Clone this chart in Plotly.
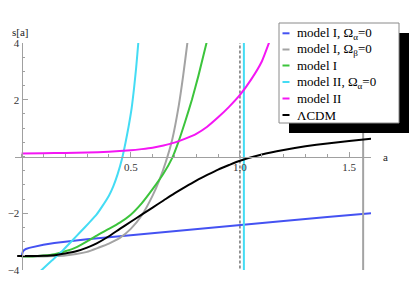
import plotly.graph_objects as go

# ---- data ----
a_m1_noalpha = [0.0, 0.002, 0.006, 0.012, 0.02, 0.035, 0.05, 0.075, 0.1, 0.15, 0.2, 0.3, 0.45, 0.65, 0.863, 1.0, 1.2, 1.4, 1.6]
s_m1_noalpha = [-3.52, -3.42, -3.35, -3.3, -3.26, -3.22, -3.19, -3.15, -3.11, -3.05, -3.0, -2.92, -2.81, -2.66, -2.5, -2.4, -2.27,
                -2.13, -2.0]

a_m1_nobeta = [0.0, 0.1, 0.15, 0.2, 0.25, 0.3, 0.35, 0.4, 0.45, 0.5, 0.55, 0.6, 0.63, 0.66, 0.69, 0.72, 0.74, 0.76, 0.77,
               None, 1.564, 1.564]
s_m1_nobeta = [-3.52, -3.52, -3.51, -3.49, -3.44, -3.36, -3.22, -3.07, -2.87, -2.55, -2.08, -1.38, -0.85, -0.2, 0.6, 1.8, 2.85, 4.05, 4.7,
               None, -4.3, 4.3]

a_m1 = [0.0, 0.05, 0.1, 0.15, 0.2, 0.25, 0.3, 0.35, 0.4, 0.45, 0.5, 0.55, 0.6, 0.65, 0.69, 0.72, 0.75, 0.78, 0.81, 0.85]
s_m1 = [-3.52, -3.52, -3.49, -3.44, -3.34, -3.2, -2.99, -2.76, -2.55, -2.33, -2.05, -1.65, -1.15, -0.6, -0.05, 0.55, 1.25, 2.0, 2.85, 4.1]

a_m2_noalpha = [0.07, 0.092, 0.14, 0.19, 0.23, 0.268, 0.31, 0.344, 0.37, 0.4, 0.42, 0.44, 0.46, 0.475, 0.49, 0.504, 0.515,
                0.525, 0.535, 0.545, None, 1.018, 1.018]
s_m2_noalpha = [-4.16, -4.0, -3.66, -3.3, -2.98, -2.67, -2.33, -2.04, -1.75, -1.38, -1.05, -0.62, -0.08, 0.45, 1.05, 1.7, 2.4,
                3.15, 4.05, 5.0, None, -4.3, 4.3]

a_m2 = [0.0, 0.1, 0.2, 0.3, 0.4, 0.5, 0.55, 0.6, 0.65, 0.7, 0.75, 0.8, 0.85, 0.9, 0.95, 1.0, 1.05, 1.1, 1.135, 1.16]
s_m2 = [0.11, 0.115, 0.125, 0.14, 0.17, 0.22, 0.26, 0.31, 0.39, 0.49, 0.63, 0.8, 1.05, 1.38, 1.75, 2.17, 2.7, 3.35, 4.05, 4.6]

a_lcdm = [-0.02, 0.05, 0.1, 0.15, 0.2, 0.25, 0.3, 0.344, 0.4, 0.45, 0.5, 0.55, 0.6, 0.65, 0.7, 0.75, 0.8, 0.85, 0.9, 0.95,
          1.0, 1.1, 1.2, 1.3, 1.4, 1.5, 1.6]
s_lcdm = [-3.51, -3.51, -3.5, -3.48, -3.42, -3.34, -3.21, -3.06, -2.81, -2.55, -2.3, -2.05, -1.8, -1.55, -1.3, -1.07, -0.85,
          -0.65, -0.46, -0.3, -0.15, 0.07, 0.23, 0.36, 0.46, 0.55, 0.63]

a_today = [1.0, 1.0]
s_today = [-4.3, 4.3]

x_tickvals = [0.5, 1.0, 1.5]
y_tickvals = [-4, -2, 2, 4]

series = [
    ("model I, Ω<sub>α</sub>=0", a_m1_noalpha, s_m1_noalpha, "#4452f2", "linear"),
    ("model I, Ω<sub>β</sub>=0", a_m1_nobeta, s_m1_nobeta, "#a3a3a3", "spline"),
    ("model I", a_m1, s_m1, "#3cc43c", "spline"),
    ("model II, Ω<sub>α</sub>=0", a_m2_noalpha, s_m2_noalpha, "#44dcf4", "spline"),
    ("model II", a_m2, s_m2, "#f416f4", "spline"),
    ("ΛCDM", a_lcdm, s_lcdm, "#000000", "spline"),
]

FONT = "Liberation Serif"
OFF = 8  # page body margin
W, H = 418 - OFF, 299 - OFF
ML, MR, MT, MB = 15 - OFF, 47, 43 - OFF, 29
PW, PH = W - ML - MR, H - MT - MB


def px2paper(px, py):
    # px, py: pixel position in the 418x299 window
    return (px - OFF - ML) / PW, (H - MB - (py - OFF)) / PH


fig = go.Figure()

fig.add_trace(go.Scatter(x=a_today, y=s_today, mode="lines",
                         line=dict(color="#333333", width=1, dash="3px,2px"),
                         showlegend=False, hoverinfo="skip"))

for name, xs, ys, col, shp in series:
    line = dict(color=col, width=2, shape=shp)
    if shp == "spline":
        line["smoothing"] = 0.5
    fig.add_trace(go.Scatter(x=xs, y=ys, mode="lines", name=name, line=line,
                             connectgaps=False, showlegend=False))

shapes = []
annotations = []

# legend shadow and box
x0, y1 = px2paper(289, 33)
x1, y0 = px2paper(409, 133)
shapes.append(dict(type="rect", xref="paper", yref="paper", x0=x0, x1=x1, y0=y0, y1=y1,
                   fillcolor="black", line=dict(width=0), layer="above"))
x0, y1 = px2paper(279, 23)
x1, y0 = px2paper(399, 123)
shapes.append(dict(type="rect", xref="paper", yref="paper", x0=x0, x1=x1, y0=y0, y1=y1,
                   fillcolor="white", line=dict(color="#8a8a8a", width=1), layer="above"))

row_y = [33.3, 49.5, 65.5, 82, 98.5, 115]
for (name, xs, ys, col, shp), ry in zip(series, row_y):
    lx0, ly = px2paper(282.5, ry)
    lx1, _ = px2paper(289.5, ry)
    shapes.append(dict(type="line", xref="paper", yref="paper", x0=lx0, x1=lx1, y0=ly, y1=ly,
                       line=dict(color=col, width=2), layer="above"))
    tx, _ = px2paper(295, ry)
    annotations.append(dict(x=tx, y=ly, xref="paper", yref="paper", text=name,
                            showarrow=False, xanchor="left", yanchor="middle",
                            font=dict(family=FONT, size=13, color="black")))

# axis labels
ax, ay = px2paper(20, 32)
annotations.append(dict(x=ax, y=ay, xref="paper", yref="paper", text="s[a]", showarrow=False,
                        xanchor="center", yanchor="middle", font=dict(family=FONT, size=11, color="#222")))
ax, ay = px2paper(385, 157)
annotations.append(dict(x=ax, y=ay, xref="paper", yref="paper", text="a", showarrow=False,
                        xanchor="center", yanchor="middle", font=dict(family=FONT, size=11, color="#222")))

xr = [-0.03, 1.6]
yr = [-4, 4]

fig.update_layout(
    width=W, height=H,
    margin=dict(l=ML, r=MR, t=MT, b=MB),
    paper_bgcolor="white", plot_bgcolor="white",
    showlegend=False,
    shapes=shapes, annotations=annotations,
    xaxis=dict(range=xr, anchor="free", position=(0 - yr[0]) / (yr[1] - yr[0]), automargin=False,
               showgrid=False, zeroline=False, showline=True, linecolor="#a0a0a0", linewidth=1,
               tickvals=x_tickvals, tickformat=".1f", ticks="inside", ticklen=5, tickcolor="#a0a0a0",
               minor=dict(dtick=0.1, tick0=0, ticks="inside", ticklen=2.5, tickcolor="#a0a0a0", showgrid=False),
               tickfont=dict(family=FONT, size=11, color="#333")),
    yaxis=dict(range=yr, anchor="free", position=(0 - xr[0]) / (xr[1] - xr[0]), automargin=False,
               showgrid=False, zeroline=False, showline=True, linecolor="#a0a0a0", linewidth=1,
               tickvals=y_tickvals, ticks="inside", ticklen=5, tickcolor="#a0a0a0",
               minor=dict(dtick=0.5, tick0=0, ticks="inside", ticklen=2.5, tickcolor="#a0a0a0", showgrid=False),
               tickfont=dict(family=FONT, size=11, color="#333")),
)

fig.write_html("out.html")
